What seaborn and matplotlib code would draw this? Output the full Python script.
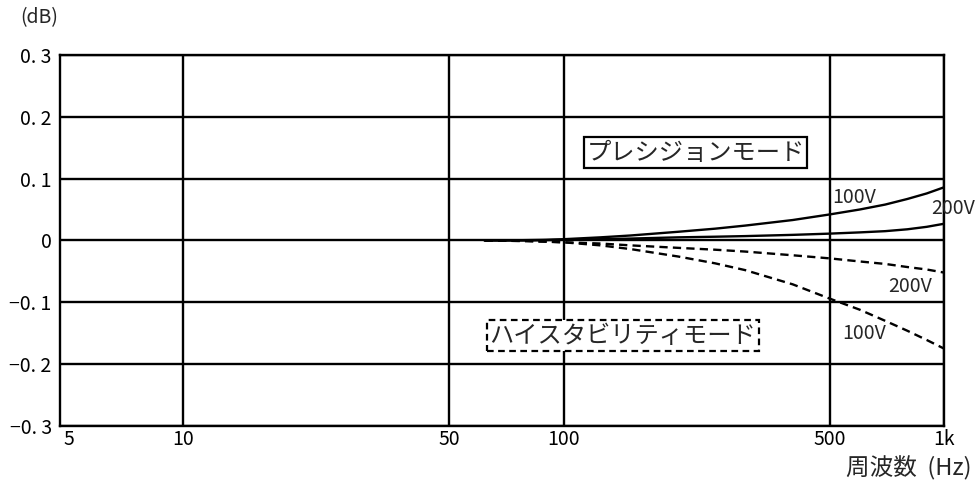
import pandas as pd
import matplotlib
matplotlib.use("Agg")
from matplotlib import pyplot as plt
import seaborn as sns

# frequency (Hz) and level deviation (dB)
freq = [62, 70, 80, 90, 100, 125, 150, 200, 250, 300, 400, 500, 600, 700, 800, 900, 1000]
prec_100v = [0.0, 0.0, 0.0005, 0.001, 0.002, 0.005, 0.008, 0.014, 0.019, 0.024,
             0.033, 0.042, 0.050, 0.058, 0.067, 0.076, 0.086]
prec_200v = [0.0, 0.0, 0.0, 0.0005, 0.001, 0.002, 0.003, 0.005, 0.006, 0.007,
             0.009, 0.011, 0.013, 0.015, 0.018, 0.022, 0.027]
stab_200v = [0.0, -0.0005, -0.001, -0.002, -0.003, -0.005, -0.008, -0.012, -0.015, -0.018,
             -0.024, -0.029, -0.034, -0.038, -0.043, -0.047, -0.052]
stab_100v = [0.0, -0.0005, -0.001, -0.002, -0.003, -0.008, -0.014, -0.026, -0.037, -0.048,
             -0.071, -0.094, -0.112, -0.130, -0.146, -0.161, -0.175]

xticks = [5, 10, 50, 100, 500, 1000]
xtick_labels = ["5", "10", "50", "100", "500", "1k"]
yticks = [-0.3, -0.2, -0.1, 0, 0.1, 0.2, 0.3]
ytick_labels = ["\u22120. 3", "\u22120. 2", "\u22120. 1", "0", "0. 1", "0. 2", "0. 3"]

rows = []
for name, mode, vals in [("p100", "prec", prec_100v), ("p200", "prec", prec_200v),
                         ("s200", "stab", stab_200v), ("s100", "stab", stab_100v)]:
    for f, v in zip(freq, vals):
        rows.append({"freq": f, "dB": v, "series": name, "mode": mode})
df = pd.DataFrame(rows)

sns.set_style("white")
plt.rcParams["font.family"] = ["Noto Sans CJK JP", "DejaVu Sans"]

fig = plt.figure(figsize=(9.77, 4.87), dpi=100)
ax = fig.add_axes([0.0614, 0.1253, 0.905, 0.762])

lw = 1.7
sns.lineplot(data=df, x="freq", y="dB", hue="series", style="mode",
             palette={k: "black" for k in ["p100", "p200", "s200", "s100"]},
             dashes={"prec": "", "stab": (3.5, 2.2)},
             linewidth=lw, legend=False, ax=ax, zorder=3)

ax.set_xscale("log")
ax.set_xlim(4.75, 1000)
ax.set_ylim(-0.3, 0.3)
ax.set_xticks(xticks)
ax.set_xticklabels(xtick_labels)
ax.set_yticks(yticks)
ax.set_yticklabels(ytick_labels)
ax.minorticks_off()
ax.tick_params(axis="both", length=0, labelsize=14, colors="black")
ax.tick_params(axis="x", pad=2)
ax.tick_params(axis="y", pad=6)
ax.grid(True, color="black", linewidth=lw)
ax.set_axisbelow(True)
for s in ax.spines.values():
    s.set_color("black")
    s.set_linewidth(lw)
# the 5 Hz position carries a label but no grid line
ax.xaxis.get_gridlines()[0].set_visible(False)
ax.set_xlabel("")
ax.set_ylabel("")

ax.text(222, 0.142, "プレシジョンモード", fontsize=17.5, ha="center", va="center",
        bbox=dict(boxstyle="square,pad=0.1", fc="white", ec="black", lw=1.6), zorder=5)
ax.text(143, -0.154, "ハイスタビリティモード", fontsize=17.5, ha="center", va="center",
        bbox=dict(boxstyle="square,pad=0.1", fc="white", ec="black", lw=1.6, ls=(0, (3, 2))),
        zorder=5)

lab = dict(fontsize=14, va="center", ha="left", zorder=6)
ax.text(508, 0.070, "100V", **lab)
ax.text(925, 0.052, "200V", clip_on=False, **lab)
ax.text(711, -0.074, "200V", **lab)
ax.text(541, -0.150, "100V", **lab)

fig.text(20 / 977, 1 - 18 / 487, "(dB)", fontsize=14, ha="left", va="center")
fig.text(971 / 977, 1 - 468 / 487, "周波数  (Hz)", fontsize=17, ha="right", va="center")

fig.savefig("out.png", dpi=100, facecolor="white")
